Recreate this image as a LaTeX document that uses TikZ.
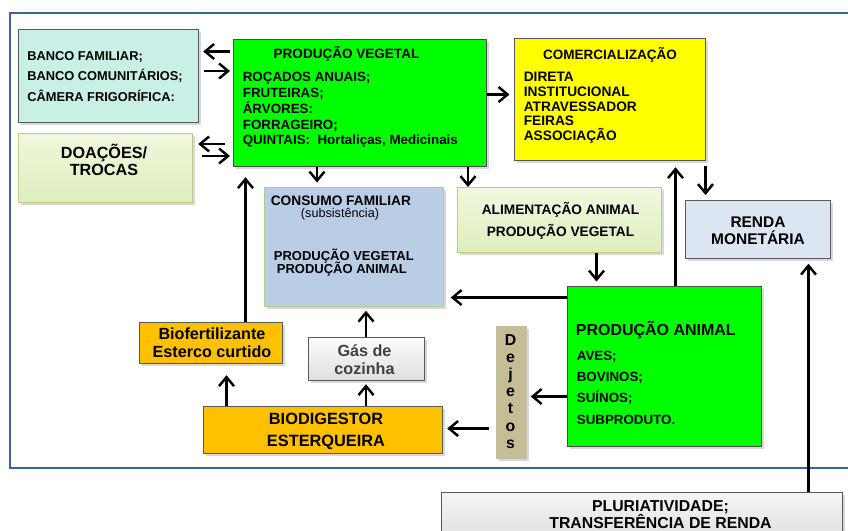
\documentclass[tikz,border=0pt]{standalone}
\usepackage{fontspec}
\setmainfont{Liberation Sans}
\usetikzlibrary{arrows.meta,shadows}
\definecolor{frameblue}{RGB}{62,98,148}
\definecolor{mint}{RGB}{200,240,230}
\definecolor{paleleaf}{RGB}{240,248,222}
\definecolor{paleleafdk}{RGB}{222,238,190}
\definecolor{leafline}{RGB}{180,205,135}
\definecolor{lime}{RGB}{0,255,0}
\definecolor{lemon}{RGB}{255,255,0}
\definecolor{sky}{RGB}{185,205,228}
\definecolor{mist}{RGB}{220,230,242}
\definecolor{sand}{RGB}{196,189,151}
\definecolor{gold}{RGB}{255,192,0}
\tikzset{
  >={Straight Barb[length=1.8mm,width=3mm]},
  box/.style={fill=#1,draw=gray!70!black,anchor=north west,inner sep=0pt,
    drop shadow={opacity=0.3,shadow xshift=0.5mm,shadow yshift=-0.6mm}},
  box/.default=mist,
  fade box/.style 2 args={top color=#1,bottom color=#2,draw=gray!70!black,
    anchor=north west,inner sep=0pt,
    drop shadow={opacity=0.3,shadow xshift=0.5mm,shadow yshift=-0.6mm}},
  flow/.style={->,line width=1.4pt},
  txt/.style={font=\bfseries\fontsize{#1}{#1}\selectfont,inner sep=0pt,anchor=base west},
  txt/.default=7.7,
  ctxt/.style={txt=#1,anchor=base},
  ctxt/.default=9.2,
}

\begin{document}
\begin{tikzpicture}
  \clip (0,0) rectangle (16.96,-10.62);
  \fill[white] (0,0) rectangle (16.96,-10.62);
  % moldura
  \draw[frameblue,line width=1.3pt] (17.2,-0.26) -- (0.2,-0.26) -- (0.2,-9.36) -- (17.2,-9.36);

  % caixas
  \node[box=mint,minimum width=3.6cm,minimum height=1.86cm] (bank) at (0.36,-0.58) {};
  \node[fade box={paleleaf}{paleleafdk},draw=leafline,minimum width=3.48cm,minimum height=1.38cm] (doa) at (0.36,-2.66) {};
  \node[box=lime,draw=black!70,minimum width=5.06cm,minimum height=2.54cm] (pv) at (4.66,-0.78) {};
  \node[box=lemon,minimum width=3.82cm,minimum height=2.44cm] (com) at (10.28,-0.76) {};
  \node[box=sky,draw=leafline,minimum width=3.58cm,minimum height=2.38cm] (cons) at (5.28,-3.74) {};
  \node[fade box={paleleaf}{paleleafdk},draw=leafline,minimum width=4.08cm,minimum height=1.3cm] (alim) at (9.14,-3.74) {};
  \node[box,minimum width=2.9cm,minimum height=1.16cm] (renda) at (13.70,-4.00) {};
  \node[box=lime,draw=black!70,minimum width=3.88cm,minimum height=3.2cm] (pa) at (11.34,-5.72) {};
  \node[box=sand,draw=sand,minimum width=0.6cm,minimum height=2.64cm] (dej) at (9.92,-6.52) {};
  \node[box=gold,minimum width=2.86cm,minimum height=0.82cm] (bio) at (2.78,-6.44) {};
  \node[fade box={gray!3}{gray!25},minimum width=2.32cm,minimum height=0.86cm] (gas) at (6.16,-6.74) {};
  \node[box=gold,minimum width=4.78cm,minimum height=0.94cm] (dig) at (4.06,-8.12) {};
  \node[fade box={gray!8}{gray!28},minimum width=8.02cm,minimum height=1.2cm] (plu) at (8.82,-9.84) {};

  % textos
  \foreach \t [count=\i from 0] in {BANCO FAMILIAR;,BANCO COMUNITÁRIOS;,CÂMERA FRIGORÍFICA:}
    \node[txt=7.3] (bank\i) at (0.54,-1.20-\i*0.41) {\t};
  \foreach \t [count=\i from 0] in {DOAÇÕES/,TROCAS}
    \node[ctxt=9.2] (doa\i) at (2.08,-3.16-\i*0.34) {\t};
  \node[ctxt=7.7] (pvT) at (6.93,-1.17) {PRODUÇÃO VEGETAL};
  \foreach \t [count=\i from 0] in {ROÇADOS ANUAIS;,FRUTEIRAS;,ÁRVORES:,FORRAGEIRO;,{QUINTAIS:\ \ Hortaliças, Medicinais}}
    \node[txt=7.6] (pv\i) at (4.85,-1.634-\i*0.316) {\t};
  \node[ctxt=7.7] (comT) at (12.20,-1.18) {COMERCIALIZAÇÃO};
  \foreach \t [count=\i from 0] in {DIRETA,INSTITUCIONAL,ATRAVESSADOR,FEIRAS,ASSOCIAÇÃO}
    \node[txt=7.8] (com\i) at (10.47,-1.634-\i*0.295) {\t};
  \node[txt=7.8] (consT) at (5.41,-4.10) {CONSUMO FAMILIAR};
  \node[font=\fontsize{7.2}{7.2}\selectfont,inner sep=0pt,anchor=base] (consS) at (6.80,-4.34) {(subsistência)};
  \node[txt=7.4] (consV) at (5.47,-5.20) {PRODUÇÃO VEGETAL};
  \node[txt=7.4] (consA) at (5.53,-5.47) {PRODUÇÃO ANIMAL};
  \foreach \t [count=\i from 0] in {ALIMENTAÇÃO ANIMAL,PRODUÇÃO VEGETAL}
    \node[ctxt=7.8] (alim\i) at (11.21,-4.29-\i*0.448) {\t};
  \foreach \t [count=\i from 0] in {RENDA,MONETÁRIA}
    \node[ctxt=8.8] (renda\i) at (15.16,-4.55-\i*0.334) {\t};
  \node[txt=9.1] (paT) at (11.51,-6.70) {PRODUÇÃO ANIMAL};
  \foreach \t [count=\i from 0] in {AVES;,BOVINOS;,SUÍNOS;,SUBPRODUTO.}
    \node[txt=7.6] (pa\i) at (11.53,-7.20-\i*0.427) {\t};
  \foreach \t [count=\i from 0] in {D,e,j,e,t,o,s}
    \node[ctxt=9] (dej\i) at (10.21,-6.90-\i*0.344) {\t};
  \foreach \t [count=\i from 0] in {Biofertilizante,Esterco curtido}
    \node[ctxt=9.2] (bio\i) at (4.24,-6.79-\i*0.352) {\t};
  \foreach \t [count=\i from 0] in {Gás de,cozinha}
    \node[ctxt=9.2,text=black!75] (gas\i) at (7.29,-7.13-\i*0.35) {\t};
  \foreach \t [count=\i from 0] in {BIODIGESTOR,ESTERQUEIRA}
    \node[ctxt=9.3] (dig\i) at (6.52,-8.49-\i*0.448) {\t};
  \foreach \t [count=\i from 0] in {PLURIATIVIDADE;,TRANSFERÊNCIA DE RENDA}
    \node[ctxt=9] (plu\i) at (13.21,-10.23-\i*0.332) {\t};

  % setas
  \draw[flow,shorten <=0.07cm,shorten >=0.09cm] (pv.west |- 0,-1.03) -- (bank.east |- 0,-1.03);
  \draw[flow,shorten <=0.1cm,shorten >=0.06cm] (bank.east |- 0,-1.42) -- (pv.west |- 0,-1.42);
  \draw[flow,shorten <=0.16cm,shorten >=0.11cm] (pv.west |- 0,-2.88) -- (doa.east |- 0,-2.88);
  \draw[flow,shorten <=0.18cm,shorten >=0.06cm] (doa.east |- 0,-3.12) -- (pv.west |- 0,-3.12);
  \draw[flow,shorten >=0.09cm] (pv.east |- 0,-1.89) -- (com.west |- 0,-1.89);
  \draw[flow,shorten >=0.09cm] (pv.south -| 6.34,0) -- (cons.north -| 6.34,0);
  \draw[flow] (pv.south -| 9.36,0) -- (alim.north -| 9.36,0);
  \draw[flow,shorten <=0.1cm,shorten >=0.1cm] (com.south -| 14.11,0) -- (renda.north -| 14.11,0);
  \draw[flow,shorten >=0.13cm] (pa.north -| 13.51,0) -- (com.south -| 13.51,0);
  \draw[flow,shorten >=0.09cm] (alim.south -| 11.93,0) -- (pa.north -| 11.93,0);
  \draw[flow,shorten >=0.14cm] (pa.west |- 0,-5.95) -- (cons.east |- 0,-5.95);
  \draw[flow,shorten >=0.08cm] (pa.west |- 0,-7.93) -- (dej.east |- 0,-7.93);
  \draw[flow,shorten <=0.15cm,shorten >=0.09cm] (dej.west |- 0,-8.57) -- (dig.east |- 0,-8.57);
  \draw[flow,shorten >=0.23cm] (dig.north -| 4.53,0) -- (bio.south -| 4.53,0);
  \draw[flow,shorten >=0.07cm] (dig.north -| 7.32,0) -- (gas.south -| 7.32,0);
  \draw[flow,shorten >=0.08cm] (gas.north -| 7.32,0) -- (cons.south -| 7.32,0);
  \draw[flow,shorten >=0.21cm] (bio.north -| 4.91,0) -- (pv.south -| 4.91,0);
  \draw[flow,shorten >=0.1cm] (plu.north -| 16.17,0) -- (renda.south -| 16.17,0);
\end{tikzpicture}
\end{document}
